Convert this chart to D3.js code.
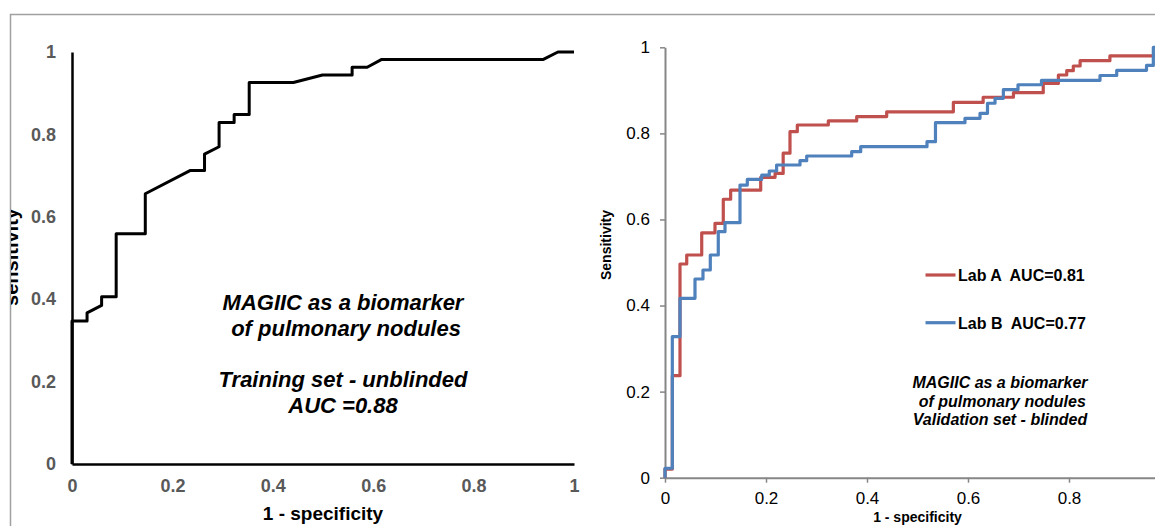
<!DOCTYPE html>
<html>
<head>
<meta charset="utf-8">
<script src="https://cdn.jsdelivr.net/npm/d3@7"></script>
<style>
  body { margin: 0; background: #fff; }
  text { font-family: "Liberation Sans", Arial, sans-serif; }
</style>
</head>
<body>
<script>
const w = 1155;
const h = 526;

const ticks = [0, 0.2, 0.4, 0.6, 0.8, 1];

// training set (unblinded), x = 1 - specificity, y = sensitivity
const trainX = [0, 0, 0.030, 0.030, 0.059, 0.059, 0.088, 0.088, 0.146, 0.146, 0.236, 0.264, 0.264, 0.293,
  0.293, 0.323, 0.323, 0.353, 0.353, 0.441, 0.499, 0.558, 0.558, 0.588, 0.617, 0.939, 0.968, 1];
const trainY = [0, 0.347, 0.347, 0.367, 0.385, 0.406, 0.406, 0.559, 0.559, 0.656, 0.7125, 0.7125, 0.752, 0.770,
  0.829, 0.829, 0.848, 0.848, 0.926, 0.926, 0.944, 0.944, 0.963, 0.963, 0.982, 0.982, 1, 1];

// validation set (blinded)
const labAX = [0, 0, 0.0145, 0.0145, 0.0297, 0.0297, 0.043, 0.043, 0.0727, 0.0727, 0.099, 0.099, 0.1154, 0.1154,
  0.130, 0.130, 0.1895, 0.1895, 0.218, 0.218, 0.234, 0.234, 0.2475, 0.2475, 0.262, 0.262, 0.3234, 0.3234,
  0.3796, 0.3796, 0.439, 0.439, 0.571, 0.571, 0.630, 0.630, 0.690, 0.690, 0.749, 0.749, 0.779, 0.779,
  0.7955, 0.7955, 0.8085, 0.8085, 0.822, 0.822, 0.881, 0.881, 1, 1];
const labAY = [0, 0.020, 0.020, 0.237, 0.237, 0.4965, 0.4965, 0.5174, 0.5174, 0.569, 0.569, 0.591, 0.591, 0.647,
  0.647, 0.668, 0.668, 0.698, 0.698, 0.707, 0.707, 0.754, 0.754, 0.804, 0.804, 0.8195, 0.8195, 0.829,
  0.829, 0.839, 0.839, 0.850, 0.850, 0.872, 0.872, 0.884, 0.884, 0.8945, 0.8945, 0.916, 0.916, 0.9356,
  0.9356, 0.9456, 0.9456, 0.9566, 0.9566, 0.969, 0.969, 0.980, 0.980, 1];

const labBX = [0, 0, 0.0145, 0.0145, 0.0297, 0.0297, 0.0594, 0.0594, 0.0752, 0.0752, 0.0897, 0.0897, 0.1055, 0.1055,
  0.1188, 0.1188, 0.1485, 0.1485, 0.163, 0.163, 0.1915, 0.1915, 0.2065, 0.2065, 0.221, 0.221, 0.2673, 0.2673,
  0.2806, 0.2806, 0.3697, 0.3697, 0.3875, 0.3875, 0.5188, 0.5188, 0.5356, 0.5356, 0.594, 0.594, 0.6238, 0.6238,
  0.6386, 0.6386, 0.6535, 0.6535, 0.670, 0.670, 0.699, 0.699, 0.7455, 0.7455, 0.8614, 0.8614, 0.8945, 0.8945,
  0.9535, 0.9535, 0.967, 0.967, 1];
const labBY = [0, 0.022, 0.022, 0.3276, 0.3276, 0.4168, 0.4168, 0.4617, 0.4617, 0.4826, 0.4826, 0.5174, 0.5174, 0.5716,
  0.5716, 0.5925, 0.5925, 0.680, 0.680, 0.693, 0.693, 0.703, 0.703, 0.7126, 0.7126, 0.7265, 0.7265, 0.7365,
  0.7365, 0.7474, 0.7474, 0.7574, 0.7574, 0.769, 0.769, 0.7807, 0.7807, 0.8248, 0.8248, 0.835, 0.835, 0.8467,
  0.8467, 0.870, 0.870, 0.8815, 0.8815, 0.9015, 0.9015, 0.913, 0.913, 0.9233, 0.9233, 0.9345, 0.9345, 0.9466,
  0.9466, 0.958, 0.958, 1, 1];

const seriesNames = ["Lab A  AUC=0.81", "Lab B  AUC=0.77"];
const seriesColors = ["#C0504D", "#4F81BD"];

const noteLeft = ["MAGIIC as a biomarker", " of pulmonary nodules", "", "Training set - unblinded", "AUC =0.88"];
const noteRight = ["MAGIIC as a biomarker", " of pulmonary nodules", "Validation set - blinded"];

const svg = d3.select("body").append("svg")
  .attr("width", w)
  .attr("height", h)
  .style("display", "block");

svg.append("clipPath").attr("id", "leftClip")
  .append("rect").attr("x", 11).attr("y", 15).attr("width", 589).attr("height", h);

// outer frame (top + left)
svg.append("path")
  .attr("d", `M10.5,${h} V14.5 H${w}`)
  .attr("fill", "none")
  .attr("stroke", "#a0a0a0")
  .attr("stroke-width", 1.5);

// ---------- left chart ----------
const left = svg.append("g").attr("clip-path", "url(#leftClip)");

const lx = d3.scaleLinear().domain([0, 1]).range([72, 574]);
const ly = d3.scaleLinear().domain([0, 1]).range([464, 52]);

const lyAxis = left.append("g")
  .attr("transform", `translate(${lx(0)},0)`)
  .call(d3.axisLeft(ly).tickValues(ticks).tickSize(0).tickSizeOuter(0).tickPadding(16).tickFormat(d3.format("~g")));
const lxAxis = left.append("g")
  .attr("transform", `translate(0,${ly(0)})`)
  .call(d3.axisBottom(lx).tickValues(ticks).tickSize(0).tickSizeOuter(0).tickPadding(15).tickFormat(d3.format("~g")));

[lyAxis, lxAxis].forEach(a => {
  a.select(".domain").attr("stroke", "#000").attr("stroke-width", 2.5);
  a.selectAll("text")
    .style("font-size", "18px")
    .style("font-weight", "bold")
    .attr("fill", "#595959");
});

left.append("path")
  .datum(d3.range(trainX.length))
  .attr("fill", "none")
  .attr("stroke", "#000")
  .attr("stroke-width", 3)
  .attr("stroke-linejoin", "round")
  .attr("d", d3.line().x(i => lx(trainX[i])).y(i => ly(trainY[i])));

left.append("text")
  .attr("transform", "translate(18,257) rotate(-90)")
  .attr("text-anchor", "middle")
  .style("font-size", "20px")
  .style("font-weight", "bold")
  .text("sensitivity");

left.append("text")
  .attr("x", lx(0.5)).attr("y", 520)
  .attr("text-anchor", "middle")
  .style("font-size", "19px")
  .style("font-weight", "bold")
  .text("1 - specificity");

left.append("g").selectAll("text")
  .data(noteLeft)
  .enter()
  .append("text")
  .attr("x", 343)
  .attr("y", (d, i) => 310 + i * 25.8)
  .attr("text-anchor", "middle")
  .attr("xml:space", "preserve")
  .style("white-space", "pre")
  .style("font-size", "22px")
  .style("font-weight", "bold")
  .style("font-style", "italic")
  .text(d => d);

// ---------- right chart ----------
const right = svg.append("g");

const rx = d3.scaleLinear().domain([0, 1]).range([665, 1170]);
const ry = d3.scaleLinear().domain([0, 1]).range([477.7, 47.3]);

// the x = 1 tick falls outside the picture, so only the visible ones get labels
const rxTicks = ticks.filter(t => rx(t) < w - 10);

const ryAxis = right.append("g")
  .attr("transform", `translate(${rx(0)},0)`)
  .call(d3.axisLeft(ry).tickValues(ticks).tickSize(5).tickSizeOuter(0).tickPadding(10).tickFormat(d3.format("~g")));
const rxAxis = right.append("g")
  .attr("transform", `translate(0,${ry(0)})`)
  .call(d3.axisBottom(rx).tickValues(rxTicks).tickSize(5).tickSizeOuter(0).tickPadding(9).tickFormat(d3.format("~g")));

[ryAxis, rxAxis].forEach(a => {
  a.select(".domain").attr("stroke", "#868686").attr("stroke-width", 2);
  a.selectAll(".tick line").attr("stroke", "#868686").attr("stroke-width", 1.5);
  a.selectAll("text")
    .style("font-size", "17px")
    .attr("fill", "#000");
});

const labs = [[labAX, labAY], [labBX, labBY]];
labs.forEach((s, k) => {
  right.append("path")
    .datum(d3.range(s[0].length))
    .attr("fill", "none")
    .attr("stroke", seriesColors[k])
    .attr("stroke-width", 3.2)
    .attr("stroke-linejoin", "round")
    .attr("d", d3.line().x(i => rx(s[0][i])).y(i => ry(s[1][i])));
});

// legend
const legend = right.append("g");
seriesNames.forEach((name, k) => {
  const y = 275 + k * 47.7;
  legend.append("line")
    .attr("x1", 925.5).attr("x2", 955.5)
    .attr("y1", y).attr("y2", y)
    .attr("stroke", seriesColors[k])
    .attr("stroke-width", 3.2);
  legend.append("text")
    .attr("x", 958).attr("y", y + 6)
    .attr("xml:space", "preserve")
    .style("white-space", "pre")
    .style("font-size", "16px")
    .style("font-weight", "bold")
    .text(name);
});

right.append("text")
  .attr("transform", "translate(611,245) rotate(-90)")
  .attr("text-anchor", "middle")
  .style("font-size", "14px")
  .style("font-weight", "bold")
  .text("Sensitivity");

right.append("text")
  .attr("x", rx(0.5)).attr("y", 522)
  .attr("text-anchor", "middle")
  .style("font-size", "14px")
  .style("font-weight", "bold")
  .text("1 - specificity");

right.append("g").selectAll("text")
  .data(noteRight)
  .enter()
  .append("text")
  .attr("x", 1000)
  .attr("y", (d, i) => 388.3 + i * 18.3)
  .attr("text-anchor", "middle")
  .attr("xml:space", "preserve")
  .style("white-space", "pre")
  .style("font-size", "16px")
  .style("font-weight", "bold")
  .style("font-style", "italic")
  .text(d => d);
</script>
</body>
</html>
